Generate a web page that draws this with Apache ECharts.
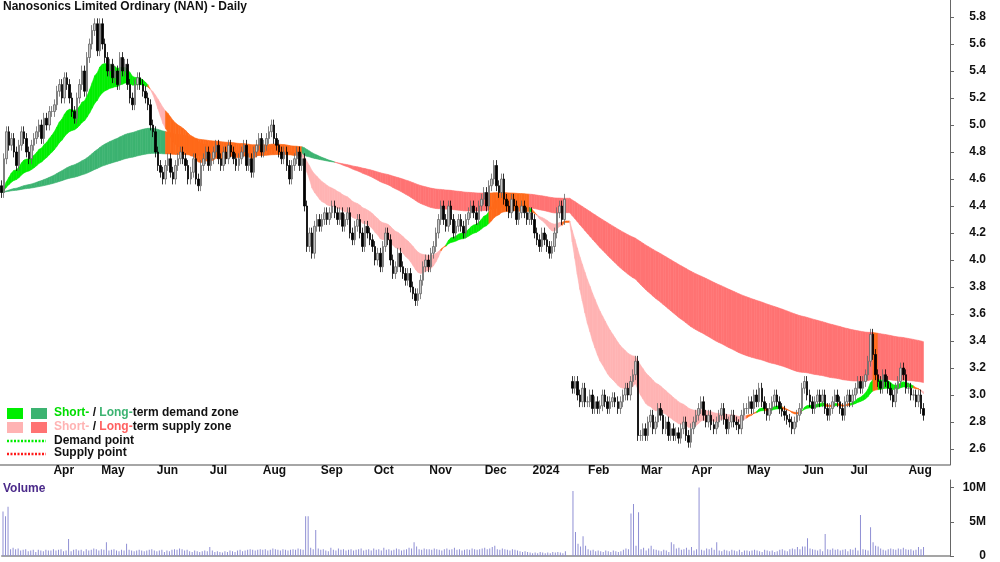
<!DOCTYPE html>
<html><head><meta charset="utf-8">
<script src="https://cdn.jsdelivr.net/npm/echarts@6/dist/echarts.min.js"></script>
<style>html,body{margin:0;padding:0;background:#fff}#c{width:1000px;height:562px}</style>
</head><body><div id="c"></div>
<script>
const monthNames = ['Mar','Apr','May','Jun','Jul','Aug','Sep','Oct','Nov','Dec','2024','Feb','Mar','Apr','May','Jun','Jul','Aug'];
const closeMonths = [
[4.5,4.75,4.95,4.85,4.9,4.8,4.7,4.85,4.95,4.9,4.8,4.75,4.85,4.9,4.95,5.0,4.9,5.05,5.0,5.1],
[5.1,5.15,5.25,5.3,5.2,5.35,5.3,5.2,5.1,5.05,5.2,5.3,5.4,5.25,5.5,5.6,5.7,5.75,5.55],
[5.75,5.6,5.5,5.4,5.45,5.35,5.4,5.3,5.5,5.4,5.45,5.3,5.2,5.15,5.3,5.35,5.3,5.25,5.2,5.15,5.0,4.95],
[4.8,4.7,4.65,4.6,4.7,4.75,4.65,4.6,4.7,4.75,4.8,4.75,4.7,4.6,4.65,4.75,4.6,4.55,4.7,4.75,4.8],
[4.7,4.75,4.8,4.85,4.75,4.7,4.8,4.75,4.85,4.8,4.75,4.7,4.75,4.8,4.85,4.7,4.75,4.65,4.8,4.85,4.9],
[4.8,4.85,4.9,4.95,5.0,4.9,4.85,4.8,4.75,4.8,4.7,4.6,4.7,4.75,4.8,4.7,4.75,4.4,4.1,4.2,4.05,4.25,4.3],
[4.25,4.3,4.35,4.3,4.35,4.4,4.35,4.3,4.35,4.25,4.3,4.35,4.2,4.15,4.25,4.3,4.2,4.1,4.25,4.2,4.15],
[4.1,4.0,4.05,3.95,4.1,4.2,4.15,4.0,3.9,3.95,4.05,3.95,3.9,3.85,3.9,3.8,3.75,3.7,3.75,3.85,3.95,4.0],
[3.95,4.05,4.1,4.2,4.3,4.4,4.3,4.25,4.4,4.3,4.2,4.25,4.3,4.25,4.2,4.3,4.35,4.4,4.35,4.3,4.4,4.45],
[4.5,4.4,4.55,4.6,4.7,4.55,4.5,4.6,4.45,4.4,4.35,4.45,4.4,4.3,4.35,4.4,4.35,4.3,4.35],
[4.3,4.2,4.15,4.1,4.2,4.15,4.1,4.05,4.1,4.2,4.35,4.4,4.3,4.45,null,null,3.05,3.1,3.0,2.95,3.05,2.95],
[2.95,3.0,2.9,2.95,2.9,2.92,3.0,2.95,2.9,2.95,2.98,2.95,2.9,2.95,3.0,3.05,3.0,3.1,3.15,3.25,2.7],
[2.7,2.75,2.7,2.8,2.85,2.75,2.8,2.9,2.85,2.75,2.8,2.7,2.75,2.7,2.72,2.68,2.75,2.8,2.7,2.65],
[2.75,2.8,2.85,2.9,2.95,2.85,2.8,2.85,2.78,2.75,2.8,2.85,2.9,2.82,2.75,2.8,2.85,2.8,2.78,2.75,2.85,2.9],
[2.9,2.95,2.9,3.0,2.95,3.05,2.95,2.9,2.85,2.9,2.95,3.0,2.95,2.9,2.88,2.85,2.82,2.8,2.75,2.8,2.85,2.9],
[3.05,3.1,3.0,2.95,2.9,2.95,3.0,2.95,3.0,2.9,2.85,2.9,2.95,3.0,2.95,2.9,2.85,2.95,3.0],
[2.95,3.0,3.05,3.1,3.05,3.1,3.15,3.25,3.45,3.3,3.15,3.1,3.05,3.15,3.1,3.05,3.0,2.95,3.05,3.1,3.2,3.15,3.05],
[3.05,3.0,3.0,2.95,3.0,2.9,2.85]
];
const volMonths = [
[6.5,5.8,7.2,1.0,1.2,1.0,1.1,0.8,0.9,1.0,0.7,0.8,0.9,0.6,0.9,0.8,0.7,0.9,0.8,0.8],
[1.0,0.8,0.9,1.0,0.7,0.8,2.5,0.7,0.9,1.0,0.8,0.9,0.7,1.0,0.8,0.9,1.1,1.0,0.8],
[1.0,0.9,2.0,0.8,0.9,1.0,0.8,0.7,0.9,0.8,1.8,0.9,0.8,0.7,0.8,0.9,0.8,0.7,0.8,0.9,1.0,0.8],
[0.7,0.8,0.9,0.6,0.8,0.7,0.9,1.0,0.9,1.1,1.0,0.8,0.9,0.7,0.6,0.8,0.7,0.6,0.7,0.8,0.7],
[1.3,0.8,0.6,0.7,0.6,0.5,0.7,0.6,0.8,0.7,0.6,0.8,0.9,0.7,0.8,0.9,1.0,0.9,0.8,0.9,1.0],
[0.9,1.0,0.8,0.9,1.1,1.0,0.9,0.8,1.0,0.9,0.8,0.9,1.0,0.9,1.1,1.0,0.9,5.8,5.8,1.2,1.0,3.8,1.1],
[0.9,1.0,0.8,0.7,1.2,0.9,0.8,1.1,0.9,1.0,0.8,0.9,1.0,0.8,0.9,1.0,1.1,0.8,0.9,1.0,0.8],
[1.1,0.9,1.0,0.8,1.2,0.9,1.0,0.8,0.9,1.1,1.0,0.8,0.9,1.0,1.2,1.1,2.0,1.4,1.0,0.9,1.1,1.0],
[1.0,0.9,1.1,1.0,0.9,0.8,1.0,1.1,0.9,1.0,1.2,0.9,1.0,0.8,0.9,1.0,0.9,1.1,1.0,0.9,1.0,1.1],
[1.2,1.0,1.1,1.3,1.5,1.0,0.9,1.1,1.0,0.9,0.8,1.0,0.9,0.8,0.7,0.6,0.7,0.6,0.5],
[0.4,0.5,0.4,0.6,0.5,0.4,0.5,0.4,0.6,0.5,0.6,0.5,0.4,0.7,0,0,9.5,3.5,1.8,1.4,2.9,1.5],
[1.0,0.8,0.9,0.7,0.8,0.7,0.6,0.8,0.7,0.6,0.8,0.7,0.6,0.7,0.9,1.1,1.0,6.2,7.6,1.5,6.4],
[1.0,1.2,0.8,1.1,1.5,1.0,0.9,0.8,0.7,0.9,0.8,0.6,2.0,1.7,1.1,1.2,0.9,1.0,1.2,0.9],
[1.3,0.8,1.0,10.0,0.9,0.8,1.1,1.0,1.2,0.9,2.0,0.8,0.7,0.9,0.8,0.7,0.9,0.8,0.7,0.9,0.6,0.8],
[0.8,0.7,0.8,0.9,0.8,0.7,0.6,0.9,0.8,0.7,0.8,0.6,0.7,0.9,1.0,0.8,0.7,1.0,1.1,1.0,1.3,1.0],
[1.4,1.4,2.6,1.1,1.0,0.9,0.8,1.0,0.7,3.2,1.0,0.9,1.1,0.9,1.0,0.8,0.9,1.0,0.7],
[1.0,0.9,1.2,0.8,6.0,1.0,0.9,0.8,4.2,2.0,1.5,1.4,1.1,0.9,0.8,1.0,1.1,1.0,0.9,1.1,1.0,1.2,1.0],
[0.9,1.0,0.8,0.9,1.3,1.0,1.3]
];
const yTicks = [2.6,2.8,3.0,3.2,3.4,3.6,3.8,4.0,4.2,4.4,4.6,4.8,5.0,5.2,5.4,5.6,5.8];
const volTicks = [0,5e6,10e6];
const trailingBlank = 10;
const wick = 0.04;

const closes=[], vols=[], cats=[];
closeMonths.forEach((m,mi)=>{ m.forEach((c,di)=>{ closes.push(c); vols.push((volMonths[mi][di]||0)*1e6); cats.push(di===0&&mi>0?monthNames[mi]:''); }); });
const n=closes.length;
for(let k=0;k<trailingBlank;k++){cats.push('');}
const candles=[]; let prev=null;
closes.forEach((c,i)=>{ if(c==null){candles.push('-');prev=null;return;}
  const o = prev==null? c+0.05 : prev;
  candles.push([o,c,Math.min(o,c)-wick,Math.max(o,c)+wick]); prev=c; });
function ema(p){const a=2/(p+1);let e=null;return closes.map(c=>{if(c!=null)e=e==null?c:e+a*(c-e);return e;});}
const s1=ema(16), s2=ema(34), l1=ema(115), l2=ema(230);
const shortCol=[], longCol=[];
for(let i=0;i<n;i++){
  const sHi=Math.max(s1[i],s2[i]), sLo=Math.min(s1[i],s2[i]), lHi=Math.max(l1[i],l2[i]), lLo=Math.min(l1[i],l2[i]);
  const overlap = sLo<=lHi && sHi>=lLo;
  longCol.push(overlap?'#ff6a1a':(l1[i]>=l2[i]?'#3cb371':'#ff7373'));
  const d=s1[i]-s2[i];
  shortCol.push(overlap?'#ff6a1a':(d>0.015?'#00ee00':(d<-0.015?'#ffb3b3':'#ff6a1a')));
}
function band(a,b,cols){
  return {type:'custom',xAxisIndex:0,yAxisIndex:0,clip:true,silent:true,
    data:a.map((v,i)=>[i,v]),
    renderItem:(params,api)=>{const i=params.dataIndex; if(i===0)return null;
      const p=[api.coord([i-1,a[i-1]]),api.coord([i,a[i]]),api.coord([i,b[i]]),api.coord([i-1,b[i-1]])];
      return {type:'polygon',shape:{points:p},style:{fill:cols[i],stroke:cols[i],lineWidth:0.6}};}};
}
const chart=echarts.init(document.getElementById('c'));
const F='Arial, "Liberation Sans", sans-serif';
const pxPerUnit = 135;
chart.setOption({
  animation:false,
  grid:[{left:0,right:50,top:0,height:465},{left:0,right:50,top:480,height:80}],
  xAxis:[
    {type:'category',data:cats,gridIndex:0,boundaryGap:true,axisLine:{show:false},axisTick:{show:false},axisLabel:{show:false}},
    {type:'category',data:cats,gridIndex:1,position:'top',boundaryGap:true,
     axisLine:{lineStyle:{color:'#888',width:1.5}},
     axisTick:{show:false},
     axisLabel:{interval:0,margin:3,align:'left',color:'#111',fontWeight:'bold',fontSize:12,fontFamily:F,formatter:v=>v}}
  ],
  yAxis:[
    {type:'value',gridIndex:0,position:'right',min:2.6-16/pxPerUnit,max:5.8+17/pxPerUnit,
     axisLine:{show:true,lineStyle:{color:'#666'}},
     axisTick:{show:true,length:4,lineStyle:{color:'#666'},customValues:yTicks},splitLine:{show:false},
     axisLabel:{customValues:yTicks,margin:36,align:'right',color:'#111',fontWeight:'bold',fontSize:12,fontFamily:F,
       formatter:v=>v.toFixed(1)}},
    {type:'value',gridIndex:1,position:'right',min:0,max:11.1e6,
     axisLine:{show:true,lineStyle:{color:'#666'}},axisTick:{show:true,length:4,lineStyle:{color:'#666'},customValues:volTicks},splitLine:{show:false},
     axisLabel:{customValues:volTicks,margin:36,align:'right',color:'#111',fontWeight:'bold',fontSize:12,fontFamily:F,
       formatter:v=>v===0?'0':(v/1e6)+'M'}}
  ],
  series:[
    band(l1,l2,longCol),
    band(s1,s2,shortCol),
    {type:'candlestick',xAxisIndex:0,yAxisIndex:0,data:candles,barWidth:2,
     itemStyle:{color:'#c8c8c8',color0:'#000',borderColor:'#666',borderColor0:'#000',borderWidth:0.8}},
    {type:'bar',xAxisIndex:1,yAxisIndex:1,data:vols,barWidth:1,itemStyle:{color:'#8f8fd4'}}
  ],
  graphic:[
    {type:'line',shape:{x1:0,y1:465,x2:950,y2:465},style:{stroke:'#888',lineWidth:1.5}},
    {type:'text',left:3,top:1,style:{text:'Nanosonics Limited Ordinary (NAN) - Daily',font:'bold 12px '+F,fill:'#111'}},
    {type:'text',left:3,top:483,style:{text:'Volume',font:'bold 12px '+F,fill:'#4b2a8a'}},
    {type:'rect',shape:{x:7,y:408,width:16,height:11},style:{fill:'#00ee00'}},
    {type:'rect',shape:{x:31,y:408,width:16,height:11},style:{fill:'#3cb371'}},
    {type:'rect',shape:{x:7,y:422,width:16,height:11},style:{fill:'#ffb3b3'}},
    {type:'rect',shape:{x:31,y:422,width:16,height:11},style:{fill:'#ff7373'}},
    {type:'line',shape:{x1:7,y1:441,x2:46,y2:441},style:{stroke:'#00ee00',lineWidth:2.5,lineDash:[2,1.5]}},
    {type:'line',shape:{x1:7,y1:454,x2:46,y2:454},style:{stroke:'#ff1a1a',lineWidth:2.5,lineDash:[2,1.5]}},
    {type:'text',left:54,top:407,style:{text:'{g|Short-} / {d|Long-}term demand zone',font:'bold 12px '+F,fill:'#111',rich:{g:{fill:'#00dd00',font:'bold 12px '+F},d:{fill:'#3cb371',font:'bold 12px '+F}}}},
    {type:'text',left:54,top:421,style:{text:'{p|Short-} / {r|Long-}term supply zone',font:'bold 12px '+F,fill:'#111',rich:{p:{fill:'#ffb3b3',font:'bold 12px '+F},r:{fill:'#ff6060',font:'bold 12px '+F}}}},
    {type:'text',left:54,top:435,style:{text:'Demand point',font:'bold 12px '+F,fill:'#111'}},
    {type:'text',left:54,top:447,style:{text:'Supply point',font:'bold 12px '+F,fill:'#111'}}
  ]
});
</script></body></html>
